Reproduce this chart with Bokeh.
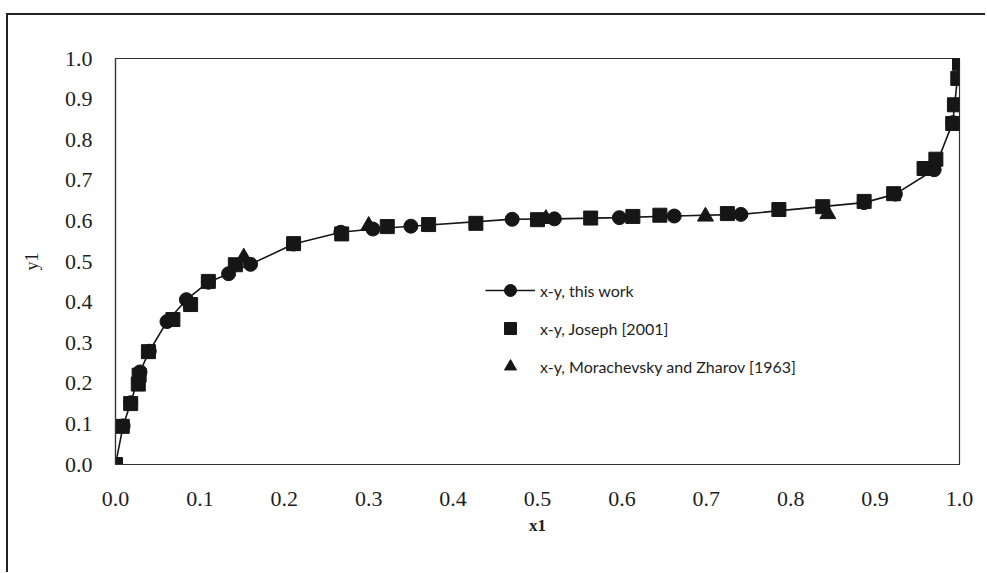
from bokeh.plotting import figure
from bokeh.models import Range1d, FixedTicker, Legend, LegendItem, CustomJSTickFormatter
from bokeh.embed import file_html
from bokeh.resources import INLINE

# Vapour-liquid equilibrium, x1 (liquid) vs y1 (vapour)
tick_values = [0.0, 0.1, 0.2, 0.3, 0.4, 0.5, 0.6, 0.7, 0.8, 0.9, 1.0]

# x-y, this work (model curve with points)
work_x = [0.0, 0.009, 0.018, 0.029, 0.040, 0.061, 0.084, 0.110, 0.134, 0.160,
          0.211, 0.267, 0.305, 0.350, 0.470, 0.520, 0.597, 0.662, 0.741,
          0.887, 0.924, 0.970, 0.992, 1.0]
work_y = [0.0, 0.095, 0.152, 0.228, 0.279, 0.352, 0.406, 0.449, 0.470, 0.493,
          0.543, 0.572, 0.580, 0.587, 0.604, 0.605, 0.608, 0.612, 0.616,
          0.645, 0.666, 0.726, 0.842, 1.0]

# x-y, Joseph [2001]
joseph_x = [0.0, 0.008, 0.018, 0.027, 0.028, 0.039, 0.068, 0.089, 0.110, 0.142,
            0.211, 0.268, 0.322, 0.371, 0.427, 0.500, 0.563, 0.613, 0.645,
            0.725, 0.786, 0.838, 0.887, 0.922, 0.958, 0.972, 0.992, 0.994,
            0.998, 1.0]
joseph_y = [0.0, 0.094, 0.150, 0.198, 0.220, 0.278, 0.357, 0.394, 0.451, 0.492,
            0.544, 0.568, 0.586, 0.591, 0.594, 0.603, 0.607, 0.611, 0.614,
            0.618, 0.628, 0.635, 0.648, 0.667, 0.729, 0.752, 0.840, 0.886,
            0.951, 0.988]

# x-y, Morachevsky and Zharov [1963]
mz_x = [0.152, 0.300, 0.510, 0.699, 0.844]
mz_y = [0.510, 0.588, 0.605, 0.611, 0.617]

INK = "#161616"
SERIF = "Liberation Serif"

p = figure(width=979, height=559, output_backend="svg", toolbar_location=None,
           x_range=Range1d(0, 1), y_range=Range1d(0, 1),
           min_border_left=107, min_border_right=28,
           min_border_top=43, min_border_bottom=110)
p.margin = (13, 0, 0, 6)
p.styles = {"border-left": "2px solid #222", "border-top": "2px solid #222"}

p.grid.visible = False
p.outline_line_color = "#333333"
p.outline_line_width = 1.2

fmt = CustomJSTickFormatter(code="return tick.toFixed(1);")
for ax in (p.xaxis[0], p.yaxis[0]):
    ax.ticker = FixedTicker(ticks=tick_values)
    ax.formatter = fmt
    ax.major_tick_line_color = None
    ax.minor_tick_line_color = None
    ax.axis_line_color = "#333333"
    ax.axis_line_width = 1.2
    ax.major_label_text_font = SERIF
    ax.major_label_text_font_size = "22px"
    ax.major_label_text_color = "#1e1e1e"
    ax.axis_label_text_font = SERIF
    ax.axis_label_text_color = "#1e1e1e"

p.xaxis[0].major_label_standoff = 21
p.yaxis[0].major_label_standoff = 17
p.xaxis[0].axis_label = "x1"
p.xaxis[0].axis_label_text_font_style = "bold"
p.xaxis[0].axis_label_text_font_size = "17px"
p.xaxis[0].axis_label_standoff = 7
p.yaxis[0].axis_label = "y1"
p.yaxis[0].axis_label_text_font_style = "normal"
p.yaxis[0].axis_label_text_font_size = "18px"
p.yaxis[0].axis_label_standoff = 20

work_line = p.line(work_x, work_y, line_color=INK, line_width=1.6)
work_pts = p.scatter(work_x, work_y, marker="circle", size=14,
                     fill_color=INK, line_color=INK)
joseph_pts = p.scatter(joseph_x, joseph_y, marker="square", size=14,
                       fill_color=INK, line_color=INK)
mz_pts = p.scatter(mz_x, mz_y, marker="triangle", size=16,
                   fill_color=INK, line_color=INK)

legend = Legend(items=[
    LegendItem(label="x-y, this work", renderers=[work_line, work_pts]),
    LegendItem(label="x-y, Joseph [2001]", renderers=[joseph_pts]),
    LegendItem(label="x-y, Morachevsky and Zharov [1963]", renderers=[mz_pts]),
], location=(370, 83))
legend.background_fill_alpha = 0
legend.border_line_color = None
legend.padding = 0
legend.margin = 0
legend.spacing = 8
legend.glyph_width = 50
legend.glyph_height = 30
legend.label_height = 30
legend.label_standoff = 5
legend.label_text_font = "Lato"
legend.label_text_font_size = "16px"
legend.label_text_color = "#1e1e1e"
p.add_layout(legend, "center")

open("out.html", "w").write(file_html(p, INLINE))
